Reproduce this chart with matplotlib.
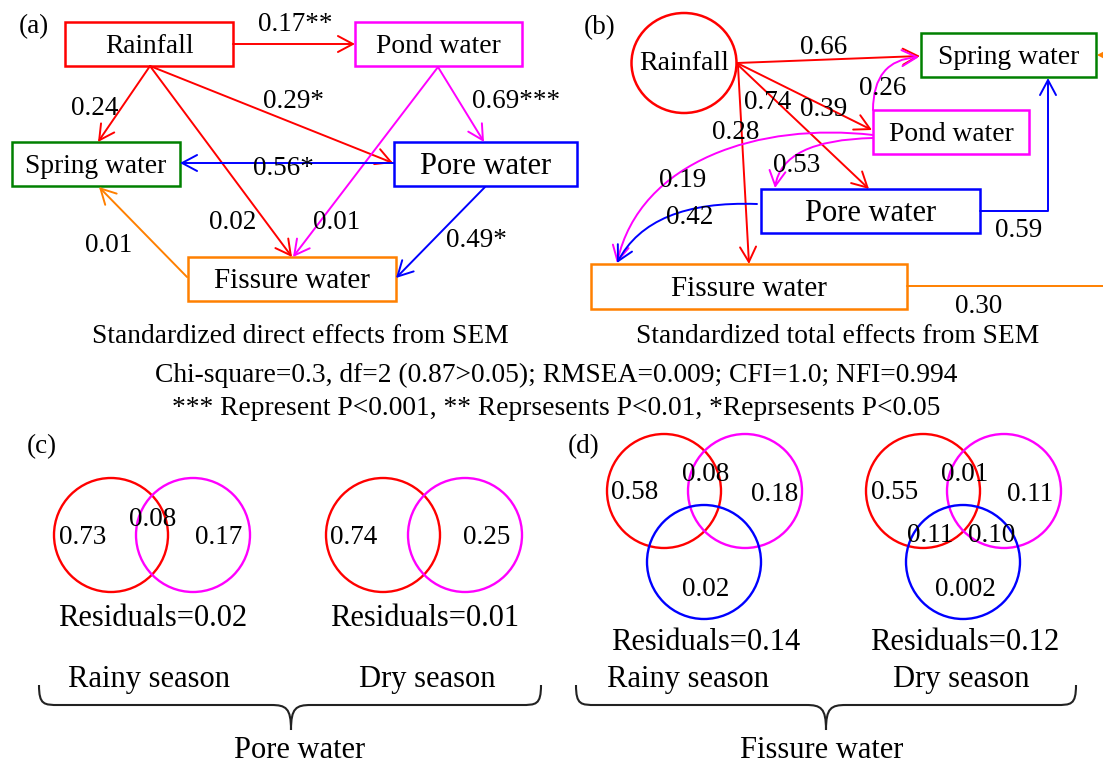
import matplotlib.pyplot as plt
from matplotlib.patches import Rectangle, Ellipse, Circle, FancyArrowPatch, PathPatch
from matplotlib.path import Path

plt.rcParams['font.family'] = ['Liberation Serif', 'DejaVu Serif']

# ---- data ----
node_names = ['Rainfall', 'Pond water', 'Spring water', 'Pore water', 'Fissure water']
node_colors = ['#ff0000', '#ff00ff', '#008000', '#0000ff', '#ff8000']

# standardized direct effects (source, target, coefficient, significance)
direct_src = ['Rainfall', 'Rainfall', 'Rainfall', 'Rainfall', 'Pond water',
              'Pond water', 'Pore water', 'Pore water', 'Fissure water']
direct_dst = ['Pond water', 'Spring water', 'Pore water', 'Fissure water', 'Pore water',
              'Fissure water', 'Spring water', 'Fissure water', 'Spring water']
direct_coef = [0.17, 0.24, 0.29, 0.02, 0.69, 0.01, 0.56, 0.49, 0.01]
direct_sig = ['**', '', '*', '', '***', '', '*', '*', '']

# standardized total effects
total_src = ['Rainfall', 'Rainfall', 'Rainfall', 'Rainfall', 'Pond water',
             'Pond water', 'Pond water', 'Pore water', 'Pore water', 'Fissure water']
total_dst = ['Spring water', 'Pond water', 'Pore water', 'Fissure water', 'Spring water',
             'Pore water', 'Fissure water', 'Fissure water', 'Spring water', 'Spring water']
total_coef = [0.66, 0.39, 0.74, 0.28, 0.26, 0.53, 0.19, 0.42, 0.59, 0.30]

# variance partitioning for pore water: [rainfall only, shared, pond only]
pore_rainy = ['0.73', '0.08', '0.17']
pore_dry = ['0.74', '', '0.25']
pore_resid = [0.02, 0.01]
# fissure water: [rain, rain&pond, pond, rain&pore, pond&pore, pore]
fiss_rainy = ['0.58', '0.08', '0.18', '', '', '0.02']
fiss_dry = ['0.55', '0.01', '0.11', '0.11', '0.10', '0.002']
fiss_resid = [0.14, 0.12]
seasons = ['Rainy season', 'Dry season']

fit_text = 'Chi-square=0.3, df=2 (0.87>0.05); RMSEA=0.009; CFI=1.0; NFI=0.994'
sig_text = '*** Represent P<0.001, ** Reprsesents P<0.01, *Reprsesents P<0.05'

# ---- figure in pixel units ----
fig = plt.figure(figsize=(11.03, 7.65), dpi=100)
ax = fig.add_axes([0, 0, 1, 1])
ax.set_xlim(0, 1103)
ax.set_ylim(765, 0)
ax.axis('off')

color_of = dict(zip(node_names, node_colors))
ARROW = '->,head_length=0.6,head_width=0.32'


def box(x0, y0, x1, y1, name, fs):
    ax.add_patch(Rectangle((x0, y0), x1 - x0, y1 - y0, fill=False,
                           ec=color_of[name], lw=1.8, zorder=3))
    ax.text((x0 + x1) / 2, (y0 + y1) / 2 + 2, name, fontsize=fs,
            ha='center', va='center', zorder=4)


def arrow(p0, p1, color):
    ax.annotate('', xy=p1, xytext=p0,
                arrowprops=dict(arrowstyle=ARROW, color=color, lw=1.4,
                                shrinkA=0, shrinkB=0, mutation_scale=18))


def curve(verts, codes, color):
    ax.add_patch(FancyArrowPatch(path=Path(verts, codes), arrowstyle=ARROW,
                                 color=color, lw=1.4, mutation_scale=18,
                                 shrinkA=0, shrinkB=0))


def label(x, y, s, fs=19.5):
    ax.text(x, y + 2, s, fontsize=fs, ha='center', va='center', zorder=5)


# ---- (a) direct effects ----
box(65, 22, 233, 66, 'Rainfall', 19.8)
box(355, 22, 522, 66, 'Pond water', 19.8)
box(12, 142, 180, 186, 'Spring water', 19.8)
box(394, 142, 577, 186, 'Pore water', 22)
box(188, 257, 396, 301, 'Fissure water', 21)

a_geom = [((233, 44), (355, 44), (295, 22)),
          ((150, 66), (98, 142), (95, 106)),
          ((150, 66), (393, 163), (293, 99)),
          ((150, 66), (292, 257), (233, 220)),
          ((438, 67), (484, 142), (516, 99)),
          ((438, 67), (293, 257), (337, 220)),
          ((394, 163), (180, 163), (283, 166)),
          ((485, 187), (396, 278), (476, 238)),
          ((187, 277), (99, 187), (109, 243))]
for s, d, c, sig, (p0, p1, lp) in zip(direct_src, direct_dst, direct_coef, direct_sig, a_geom):
    arrow(p0, p1, color_of[s])
    label(*lp, f'{c:.2f}{sig}')

label(34, 25, '(a)')
label(300, 334, 'Standardized direct effects from SEM', 19.8)

# ---- (b) total effects ----
ax.add_patch(Ellipse((684, 63), 105, 100, fill=False, ec=color_of['Rainfall'], lw=1.8))
ax.text(684, 63, 'Rainfall', fontsize=20, ha='center', va='center')
box(921, 33, 1096, 77, 'Spring water', 19.8)
box(873, 110, 1029, 154, 'Pond water', 19.8)
box(761, 189, 980, 233, 'Pore water', 22)
box(591, 264, 907, 309, 'Fissure water', 21)

L, Q, C = Path.LINETO, Path.CURVE3, Path.CURVE4
M = Path.MOVETO
b_geom = [([(737, 63), (920, 56)], [M, L], (824, 45)),
          ([(737, 63), (872, 130)], [M, L], (824, 107)),
          ([(737, 64), (869, 189)], [M, L], (768, 100)),
          ([(738, 66), (749, 264)], [M, L], (736, 130)),
          ([(873, 110), (873, 60), (919, 57)], [M, Q, Q], (883, 86)),
          ([(873, 138), (782, 140), (775, 188)], [M, Q, Q], (797, 163)),
          ([(873, 135), (760, 122), (640, 160), (617, 263)], [M, C, C, C], (683, 178)),
          ([(757, 204), (650, 200), (617, 263)], [M, Q, Q], (690, 215)),
          ([(980, 211), (1048, 211), (1048, 78)], [M, L, L], (1019, 228)),
          ([(907, 286), (1116, 286), (1116, 55), (1097, 55)], [M, L, L, L], (979, 304))]
for s, c, (verts, codes, lp) in zip(total_src, total_coef, b_geom):
    curve(verts, codes, color_of[s])
    label(*lp, f'{c:.2f}')

label(600, 26, '(b)')
label(838, 334, 'Standardized total effects from SEM', 19.8)

label(556, 373, fit_text, 19.8)
label(556, 406, sig_text, 19.8)


# ---- (c), (d) variance partitioning ----
def venn_circle(cx, cy, name):
    ax.add_patch(Circle((cx, cy), 57, fill=False, ec=color_of[name], lw=1.7))


def brace(xl, xr, xm, yt=685, yb=705, ytip=730):
    verts = [(xl, yt), (xl, yb), (xl + 5, yb), (xl + 20, yb),
             (xm - 20, yb),
             (xm - 5, yb), (xm, yb + 3), (xm, ytip),
             (xm, yb + 3), (xm + 5, yb), (xm + 20, yb),
             (xr - 20, yb),
             (xr - 5, yb), (xr, yb), (xr, yt)]
    codes = [M, C, C, C, L, C, C, C, C, C, C, L, C, C, C]
    ax.add_patch(PathPatch(Path(verts, codes), fill=False, ec='#222222', lw=1.5))


label(42, 445, '(c)')
for k, (vals, cx) in enumerate(zip([pore_rainy, pore_dry], [111, 383])):
    venn_circle(cx, 535, 'Rainfall')
    venn_circle(cx + 82, 535, 'Pond water')
    label(cx - 28 - k, 536, vals[0])
    if vals[1]:
        label(cx + 42, 518, vals[1])
    label(cx + 108 - k * 4, 536, vals[2])
    label(cx + 42, 616, f'Residuals={pore_resid[k]:.2f}', 22)
    label(cx + 38 + k * 6, 678, seasons[k], 22)
brace(39, 541, 291)
label(300, 748, 'Pore water', 22)

label(584, 445, '(d)')
for k, (vals, cx) in enumerate(zip([fiss_rainy, fiss_dry], [664, 923])):
    venn_circle(cx, 491, 'Rainfall')
    venn_circle(cx + 81, 491, 'Pond water')
    venn_circle(cx + 40, 562, 'Pore water')
    label(cx - 29 + k, 490, vals[0])
    label(cx + 42, 472, vals[1])
    label(cx + 111 - k * 4, 492, vals[2])
    if vals[3]:
        label(cx + 7, 533, vals[3])
        label(cx + 69, 533, vals[4])
    label(cx + 42, 588, vals[5])
    label(cx + 42, 641, f'Residuals={fiss_resid[k]:.2f}', 22)
    label(cx + 24 + k * 14, 678, seasons[k], 22)
brace(576, 1076, 826)
label(822, 748, 'Fissure water', 22)

fig.savefig('out.png', dpi=100)
